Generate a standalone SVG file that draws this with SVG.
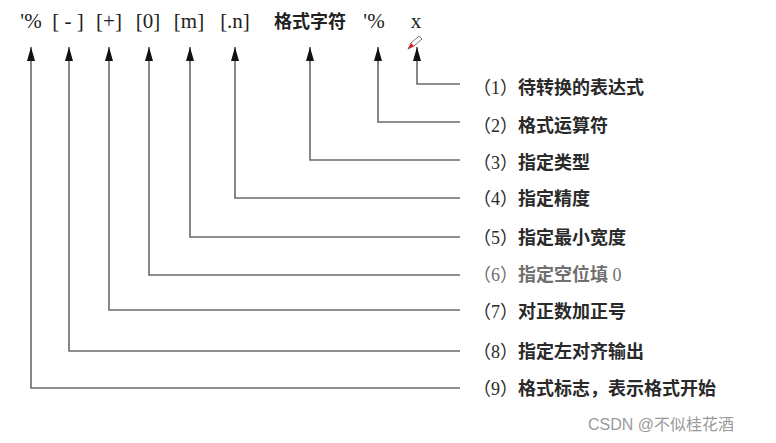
<svg xmlns="http://www.w3.org/2000/svg" width="776" height="443" viewBox="0 0 776 443">
<style>
.top{font-family:"Liberation Serif","Noto Sans CJK SC",serif;font-size:21px;fill:#222;text-anchor:middle}
.lab{font-family:"Liberation Serif","Noto Sans CJK SC",serif;font-size:18px;fill:#2a2a2a;font-weight:600}
.n{font-weight:normal}
.ln{fill:none;stroke:#6a6a6a;stroke-width:1.6}
.wm{font-family:"Liberation Sans","Noto Sans CJK SC",sans-serif;font-size:16px;fill:#9a9a9a}
</style>
<defs>
<marker id="ah" markerWidth="14" markerHeight="8" refX="14" refY="4" orient="auto-start-reverse" markerUnits="userSpaceOnUse" viewBox="0 0 14 8">
<path d="M0,0 L14,4 L0,8 Z" fill="#111"/>
</marker>
</defs>
<rect width="776" height="443" fill="#fff"/>
<g id="tops">
<text class="top" x="31" y="28">'%</text>
<text class="top" x="68" y="28">[ - ]</text>
<text class="top" x="109" y="28">[+]</text>
<text class="top" x="148" y="28">[0]</text>
<text class="top" x="189" y="28">[m]</text>
<text class="top" x="235" y="28">[.n]</text>
<text class="top" x="310" y="28" style="font-size:18px;font-weight:600">格式字符</text>
<text class="top" x="374" y="28">'%</text>
<text class="top" x="416" y="28">x</text>
</g>
<g id="cursor">
<path d="M408,49 L411,43 L419,36 L422,39 L414,46 Z" fill="#fff" stroke="#555" stroke-width="0.8"/>
<path d="M408,49 L411,43 L414,46 Z" fill="#e02020"/>
</g>
<g id="connectors">
<path class="ln" marker-start="url(#ah)" d="M417,47 V84 H460"/>
<path class="ln" marker-start="url(#ah)" d="M378,47 V122 H460"/>
<path class="ln" marker-start="url(#ah)" d="M310,47 V160 H460"/>
<path class="ln" marker-start="url(#ah)" d="M235,47 V198 H460"/>
<path class="ln" marker-start="url(#ah)" d="M190,47 V237 H460"/>
<path class="ln" marker-start="url(#ah)" d="M149,47 V275 H460"/>
<path class="ln" marker-start="url(#ah)" d="M109,47 V310 H460"/>
<path class="ln" marker-start="url(#ah)" d="M69,47 V351 H460"/>
<path class="ln" marker-start="url(#ah)" d="M31,47 V388 H460"/>
</g>
<g id="label1"><text class="lab" x="473" y="94"><tspan class="n">（1）</tspan>待转换的表达式</text></g>
<g id="label2"><text class="lab" x="473" y="132"><tspan class="n">（2）</tspan>格式运算符</text></g>
<g id="label3"><text class="lab" x="473" y="169"><tspan class="n">（3）</tspan>指定类型</text></g>
<g id="label4"><text class="lab" x="473" y="205"><tspan class="n">（4）</tspan>指定精度</text></g>
<g id="label5"><text class="lab" x="473" y="244"><tspan class="n">（5）</tspan>指定最小宽度</text></g>
<g id="label6"><text class="lab" x="473" y="281" style="fill:#707070"><tspan class="n">（6）</tspan>指定空位填 <tspan class="n">0</tspan></text></g>
<g id="label7"><text class="lab" x="473" y="318"><tspan class="n">（7）</tspan>对正数加正号</text></g>
<g id="label8"><text class="lab" x="473" y="358"><tspan class="n">（8）</tspan>指定左对齐输出</text></g>
<g id="label9"><text class="lab" x="473" y="395"><tspan class="n">（9）</tspan>格式标志，表示格式开始</text></g>
<text class="wm" x="588" y="430">CSDN @不似桂花酒</text>
</svg>
